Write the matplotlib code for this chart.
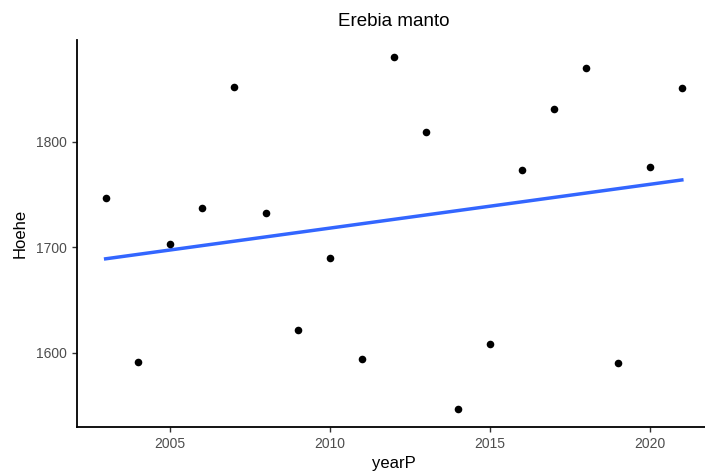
import numpy as np
import matplotlib
matplotlib.use("Agg")
import matplotlib.pyplot as plt

plt.rcParams['font.family'] = ['Liberation Sans', 'DejaVu Sans']

years = [2003, 2004, 2005, 2006, 2007, 2008, 2009, 2010, 2011, 2012,
         2013, 2014, 2015, 2016, 2017, 2018, 2019, 2020, 2021]
hoehe = [1747, 1591, 1703, 1737, 1852, 1732, 1621, 1690, 1594, 1880,
         1809, 1546, 1608, 1773, 1831, 1870, 1590, 1776, 1851]

x = np.array(years, dtype=float)
y = np.array(hoehe, dtype=float)

fig = plt.figure(figsize=(7.05, 4.75), dpi=100)
ax = fig.add_axes([0.109, 0.101, 0.899, 0.815])

ax.scatter(x, y, s=30, color='black', zorder=3, linewidths=0)

# linear fit like geom_smooth(method = "lm", se = FALSE)
slope, intercept = np.polyfit(x, y, 1)
xs = np.array([x.min(), x.max()])
ax.plot(xs, slope * xs + intercept, color='#3366FF', lw=2.5, zorder=2)

xr = x.max() - x.min()
yr = y.max() - y.min()
ax.set_xlim(x.min() - 0.05 * xr, x.max() + 0.05 * xr)
ax.set_ylim(y.min() - 0.05 * yr, y.max() + 0.05 * yr)

ax.set_xticks([2005, 2010, 2015, 2020])
ax.set_yticks([1600, 1700, 1800])

for side in ['top', 'right']:
    ax.spines[side].set_visible(False)
for side in ['left', 'bottom']:
    ax.spines[side].set_linewidth(1.3)
    ax.spines[side].set_color('black')

ax.tick_params(axis='both', colors='#333333', labelcolor='#4d4d4d',
               labelsize=10, length=3.5, width=1)

ax.set_xlabel('yearP', fontsize=12, color='black', labelpad=4)
ax.set_ylabel('Hoehe', fontsize=12, color='black', labelpad=6)
ax.set_title('Erebia manto', fontsize=13.5, color='black', pad=10)

fig.savefig('out.png', dpi=100)
